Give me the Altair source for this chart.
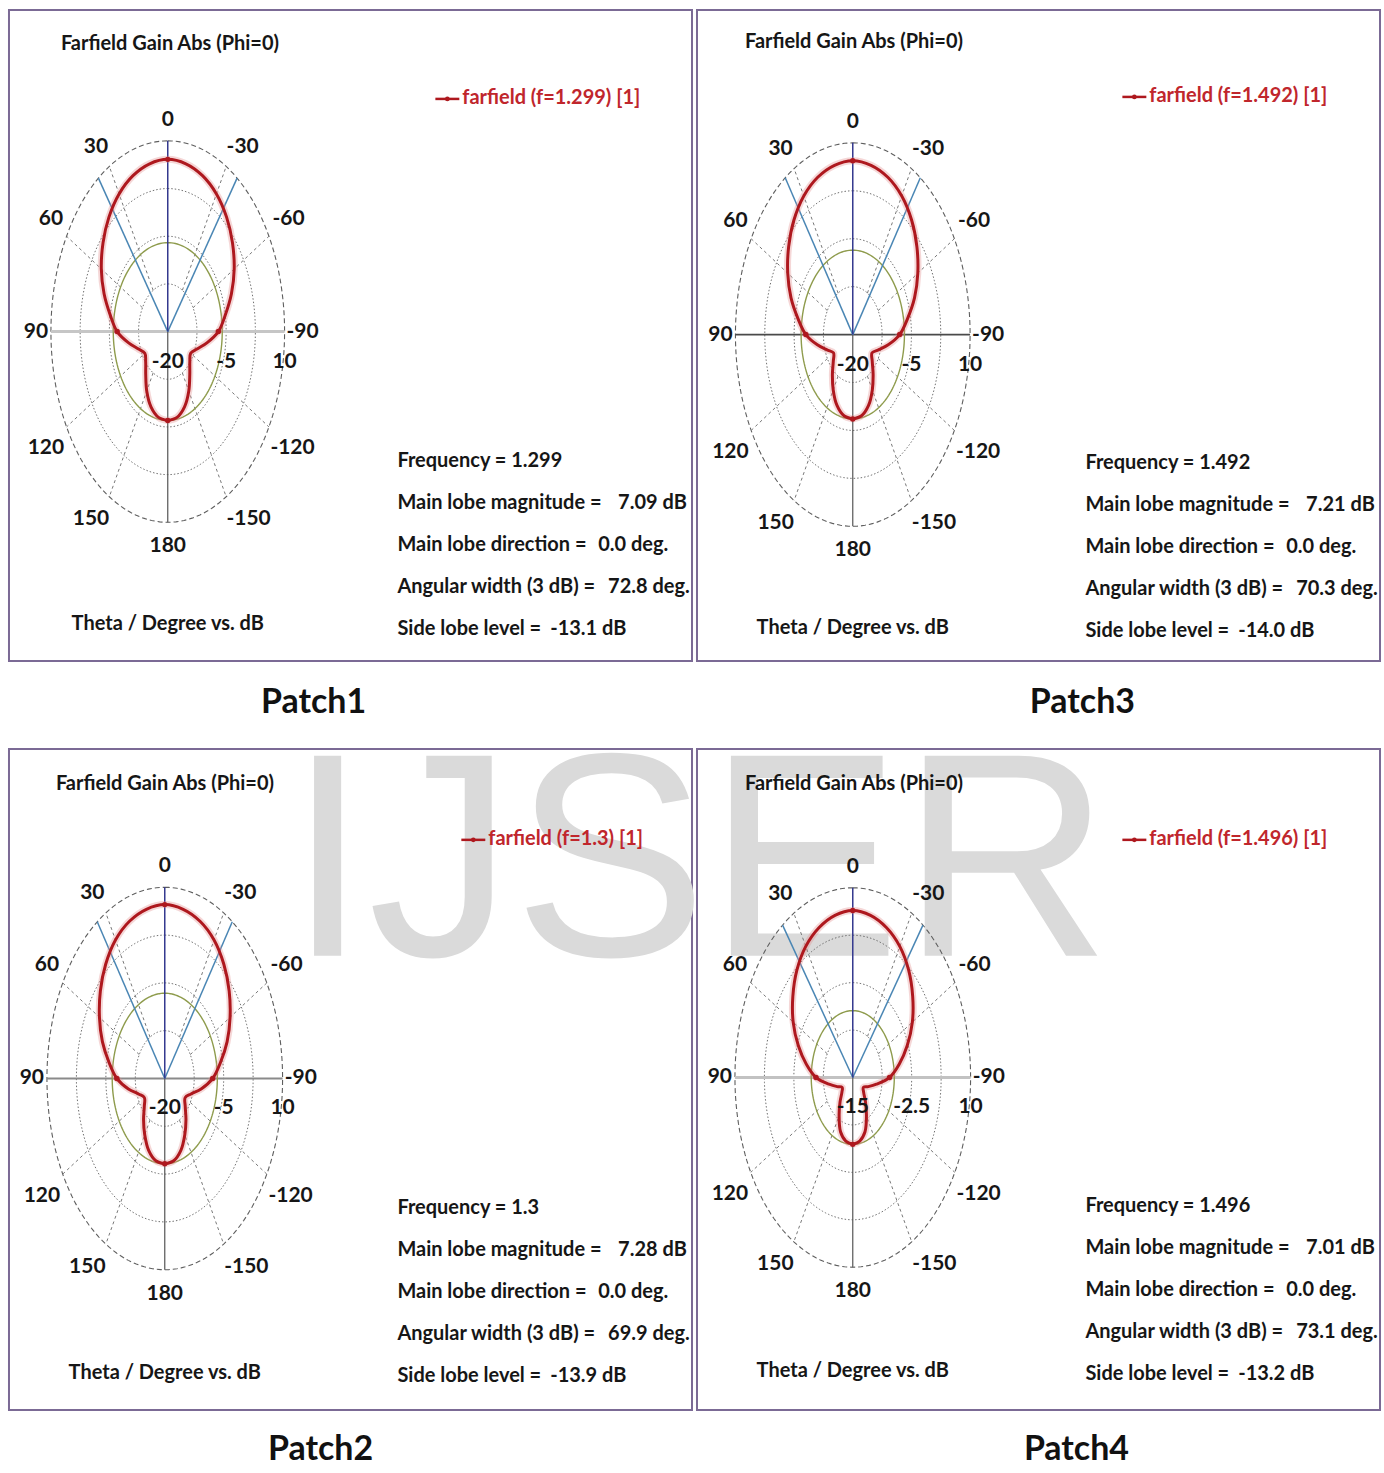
import numpy as np
import pandas as pd
import altair as alt

# ---------------- data ----------------
PATCH_NAMES = ["Patch1", "Patch3", "Patch2", "Patch4"]
FREQS = ["1.299", "1.492", "1.3", "1.496"]
MAIN_LOBE_DB = [7.09, 7.21, 7.28, 7.01]
MAIN_LOBE_DIR = [0.0, 0.0, 0.0, 0.0]
BEAMWIDTH_DEG = [72.8, 70.3, 69.9, 73.1]
SIDE_LOBE_DB = [-13.1, -14.0, -13.9, -13.2]
RADIAL_MIN = [-20, -20, -20, -15]
RADIAL_MAX = [10, 10, 10, 10]
RADIAL_LABELS = [[-20, -5, 10], [-20, -5, 10], [-20, -5, 10], [-15, -2.5, 10]]
ANGLE_TICKS = [0, 30, 60, 90, 120, 150, 180, -150, -120, -90, -60, -30]

THETA = [-180, -170, -160, -150, -140, -130, -120, -110, -100, -90, -80, -70, -60,
         -50, -40, -30, -20, -10, 0, 10, 20, 30, 40, 50, 60, 70, 80, 90, 100, 110,
         120, 130, 140, 150, 160, 170, 180]

GAIN_PATCH1 = [-6.01, -6.3, -7.4, -9.2, -11.2, -12.6, -13.2, -12.0, -9.8, -7.0, -5.0,
               -2.6, -0.3, 1.7, 3.5, 5.0, 6.1, 6.8, 7.09, 6.8, 6.1, 5.0, 3.5, 1.7, -0.3,
               -2.6, -5.0, -7.0, -9.8, -12.0, -13.2, -12.6, -11.2, -9.2, -7.4, -6.3, -6.01]
GAIN_PATCH3 = [-6.79, -7.1, -8.2, -10.0, -11.9, -13.5, -14.3, -13.0, -10.8, -8.0, -5.8,
               -3.2, -0.8, 1.4, 3.4, 5.05, 6.2, 6.9, 7.21, 6.9, 6.2, 5.05, 3.4, 1.4, -0.8,
               -3.2, -5.8, -8.0, -10.8, -13.0, -14.3, -13.5, -11.9, -10.0, -8.2, -7.1, -6.79]
GAIN_PATCH2 = [-6.62, -6.9, -8.0, -9.8, -11.6, -13.2, -14.0, -12.9, -10.6, -7.8, -5.6,
               -3.1, -0.8, 1.4, 3.4, 5.1, 6.25, 6.95, 7.28, 6.95, 6.25, 5.1, 3.4, 1.4, -0.8,
               -3.1, -5.6, -7.8, -10.6, -12.9, -14.0, -13.2, -11.6, -9.8, -8.0, -6.9, -6.62]
GAIN_PATCH4 = [-6.19, -6.5, -7.4, -9.2, -10.8, -12.0, -12.4, -11.5, -9.9, -7.2, -5.0,
               -2.7, -0.4, 1.6, 3.45, 4.95, 6.0, 6.7, 7.01, 6.7, 6.0, 4.95, 3.45, 1.6, -0.4,
               -2.7, -5.0, -7.2, -9.9, -11.5, -12.4, -12.0, -10.8, -9.2, -7.4, -6.5, -6.19]
GAINS = [GAIN_PATCH1, GAIN_PATCH3, GAIN_PATCH2, GAIN_PATCH4]

# ---------------- layout / style ----------------
FONT = "Lato, Liberation Sans, sans-serif"
INK = "#161616"
RED = "#ae181e"
W = 684
HEIGHTS = [652, 652, 662, 662]
CENTERS = [(159, 322), (156, 325), (156, 330), (156, 329)]
RADII = [(117, 191), (117.5, 192), (118, 191.5), (118, 190)]
HAXIS_COLOR = ["#c6c6c6", "#4a4a4a", "#8a8a8a", "#c2c2c2"]
HAXIS_WIDTH = [3, 1.6, 2, 3]
TITLE_POS = [(52, 34), (48, 32), (47, 35), (48, 35)]
LEGEND_POS = [(454, 88), (453, 86), (480, 90), (453, 90)]
INFO_TOP = [452, 454, 460, 458]
XLABEL_Y = [615, 619, 625, 623]
PATCH_POS = [(305, 694), (386, 694), (312, 702), (380, 702)]
# where each angle tick label sits, in units of the outer ring radius
ANGLE_LABEL_ANCHOR = {
    0: (0.0, 1.11), 30: (-0.615, 0.969), 60: (-1.0, 0.592), 90: (-1.128, 0.0),
    120: (-1.043, -0.613), 150: (-0.657, -0.984), 180: (0.0, -1.126),
    -150: (0.692, -0.984), -120: (1.068, -0.613), -90: (1.154, 0.0),
    -60: (1.034, 0.592), -30: (0.641, 0.969),
}


def text_at(txt, px, py, size=20, color=INK, align="left", weight="bold"):
    return alt.Chart(pd.DataFrame({"label": [txt]})).mark_text(
        align=align, baseline="middle", fontSize=size, fontWeight=weight,
        font=FONT, color=color
    ).encode(x=alt.value(px), y=alt.value(py), text="label:N")


def ring_frame(radii):
    ang = np.radians(np.arange(0, 361, 2))
    rows = []
    for r in radii:
        for j, a in enumerate(ang):
            rows.append({"ring": r, "seq": j, "x": r * np.sin(a), "y": r * np.cos(a)})
    return pd.DataFrame(rows)


def build_panel(k):
    H = HEIGHTS[k]
    cx, cy = CENTERS[k]
    rx, ry = RADII[k]
    xs = alt.Scale(domain=[-cx / rx, (W - cx) / rx], nice=False, zero=False)
    ys = alt.Scale(domain=[-(H - cy) / ry, cy / ry], nice=False, zero=False)
    X = alt.X("x:Q", scale=xs, axis=None)
    Y = alt.Y("y:Q", scale=ys, axis=None)
    lo, hi = RADIAL_MIN[k], RADIAL_MAX[k]

    def rnorm(v):
        return (np.asarray(v, dtype=float) - lo) / (hi - lo)

    layers = []

    if PATCH_NAMES[k] == "Patch2":
        layers.append(alt.Chart(pd.DataFrame({"label": ["IJSER"]})).mark_text(
            align="center", baseline="alphabetic", fontSize=291,
            font="Liberation Sans, Arial, sans-serif", color="#dadada"
        ).encode(x=alt.value(691), y=alt.value(207), text="label:N"))

    # grid rings
    inner = ring_frame([0.25, 0.5, 0.75])
    layers.append(alt.Chart(inner).mark_line(color="#6f6f6f", strokeWidth=1,
                                             strokeDash=[1.5, 2]).encode(
        x=X, y=Y, detail="ring:N", order="seq:Q"))
    outer = ring_frame([1.0])
    layers.append(alt.Chart(outer).mark_line(color="#5e5e5e", strokeWidth=1.1,
                                             strokeDash=[5, 3]).encode(
        x=X, y=Y, detail="ring:N", order="seq:Q"))

    # spokes
    sp = [a for a in ANGLE_TICKS if a % 90 != 0]
    spokes = pd.DataFrame({
        "x": [-0.25 * np.sin(np.radians(a)) for a in sp],
        "y": [0.25 * np.cos(np.radians(a)) for a in sp],
        "x2": [-np.sin(np.radians(a)) for a in sp],
        "y2": [np.cos(np.radians(a)) for a in sp],
    })
    layers.append(alt.Chart(spokes).mark_rule(color="#777777", strokeWidth=1,
                                              strokeDash=[3, 3]).encode(
        x=X, y=Y, x2="x2:Q", y2="y2:Q"))

    # axes through the centre
    hax = pd.DataFrame({"x": [-1.0], "y": [0.0], "x2": [1.0], "y2": [0.0]})
    layers.append(alt.Chart(hax).mark_rule(color=HAXIS_COLOR[k],
                                           strokeWidth=HAXIS_WIDTH[k]).encode(
        x=X, y=Y, x2="x2:Q", y2="y2:Q"))
    vlow = pd.DataFrame({"x": [0.0], "y": [0.0], "x2": [0.0], "y2": [-1.0]})
    layers.append(alt.Chart(vlow).mark_rule(color="#555555", strokeWidth=1.2).encode(
        x=X, y=Y, x2="x2:Q", y2="y2:Q"))

    # side lobe level ring
    sll = ring_frame([float(rnorm(MAIN_LOBE_DB[k] + SIDE_LOBE_DB[k]))])
    layers.append(alt.Chart(sll).mark_line(color="#8e9b4c", strokeWidth=1.4).encode(
        x=X, y=Y, detail="ring:N", order="seq:Q"))

    # 3 dB beamwidth lines and main lobe direction
    half = BEAMWIDTH_DEG[k] / 2.0
    d = MAIN_LOBE_DIR[k]
    bw = pd.DataFrame({
        "x": [0.0, 0.0], "y": [0.0, 0.0],
        "x2": [-np.sin(np.radians(d + half)), -np.sin(np.radians(d - half))],
        "y2": [np.cos(np.radians(d + half)), np.cos(np.radians(d - half))],
    })
    layers.append(alt.Chart(bw).mark_rule(color="#4a86b4", strokeWidth=1.5).encode(
        x=X, y=Y, x2="x2:Q", y2="y2:Q"))
    mdir = pd.DataFrame({"x": [0.0], "y": [0.0],
                         "x2": [-np.sin(np.radians(d))], "y2": [np.cos(np.radians(d))]})
    layers.append(alt.Chart(mdir).mark_rule(color="#33388e", strokeWidth=1.5).encode(
        x=X, y=Y, x2="x2:Q", y2="y2:Q"))

    # radiation pattern
    th = np.radians(np.asarray(THETA, dtype=float))
    r = rnorm(GAINS[k])
    curve = pd.DataFrame({"theta": THETA, "gain": GAINS[k], "seq": range(len(THETA)),
                          "x": -r * np.sin(th), "y": r * np.cos(th)})
    layers.append(alt.Chart(curve).mark_line(color="#e38b8b", strokeWidth=7, opacity=0.35,
                                             interpolate="catmull-rom").encode(
        x=X, y=Y, order="seq:Q"))
    layers.append(alt.Chart(curve).mark_line(color=RED, strokeWidth=3,
                                             interpolate="catmull-rom").encode(
        x=X, y=Y, order="seq:Q"))
    marks = curve[curve["theta"].isin([0, 90, -90, 180])]
    layers.append(alt.Chart(marks).mark_point(filled=True, color=RED, size=30,
                                              opacity=1).encode(x=X, y=Y))

    # angle labels
    ang = pd.DataFrame({
        "label": [str(a) for a in ANGLE_TICKS],
        "x": [ANGLE_LABEL_ANCHOR[a][0] for a in ANGLE_TICKS],
        "y": [ANGLE_LABEL_ANCHOR[a][1] for a in ANGLE_TICKS],
    })
    layers.append(alt.Chart(ang).mark_text(fontSize=21, fontWeight="bold", font=FONT,
                                           color=INK).encode(x=X, y=Y, text="label:N"))

    # radial labels along the -90 side
    rl = RADIAL_LABELS[k]
    rad = pd.DataFrame({"label": [f"{v:g}" for v in rl],
                        "x": list(rnorm(rl)), "y": [0.0] * len(rl)})
    layers.append(alt.Chart(rad).mark_text(fontSize=21, fontWeight="bold", font=FONT,
                                           color=INK, dy=30).encode(
        x=X, y=Y, text="label:N"))

    # panel texts
    tx, ty = TITLE_POS[k]
    layers.append(text_at("Farfield Gain Abs (Phi=0)", tx, ty))
    lx, lyy = LEGEND_POS[k]
    leg = pd.DataFrame({"a": [0]})
    layers.append(alt.Chart(leg).mark_rule(color=RED, strokeWidth=2.5).encode(
        x=alt.value(lx - 27), x2=alt.value(lx - 3), y=alt.value(lyy + 1)))
    layers.append(alt.Chart(leg).mark_point(filled=True, color=RED, size=22,
                                            opacity=1).encode(
        x=alt.value(lx - 15), y=alt.value(lyy + 1)))
    layers.append(text_at(f"farfield (f={FREQS[k]}) [1]", lx, lyy, color="#c0262c"))

    top = INFO_TOP[k]
    step = 42
    layers.append(text_at(f"Frequency = {FREQS[k]}", 389, top))
    layers.append(text_at("Main lobe magnitude =", 389, top + step))
    layers.append(text_at(f"{MAIN_LOBE_DB[k]:.2f} dB", 610, top + step))
    layers.append(text_at("Main lobe direction =", 389, top + 2 * step))
    layers.append(text_at(f"{MAIN_LOBE_DIR[k]:.1f} deg.", 590, top + 2 * step))
    layers.append(text_at("Angular width (3 dB) =", 389, top + 3 * step))
    layers.append(text_at(f"{BEAMWIDTH_DEG[k]:.1f} deg.", 600, top + 3 * step))
    layers.append(text_at("Side lobe level =", 389, top + 4 * step))
    layers.append(text_at(f"{SIDE_LOBE_DB[k]:.1f} dB", 542, top + 4 * step))

    layers.append(text_at("Theta / Degree vs. dB", cx, XLABEL_Y[k], align="center"))

    px, py = PATCH_POS[k]
    layers.append(text_at(PATCH_NAMES[k], px, py, size=34, align="center",
                          color="#111111"))

    return alt.layer(*layers).properties(width=W, height=HEIGHTS[k])


panels = [build_panel(k) for k in range(4)]
chart = alt.concat(*panels, columns=2, spacing={"row": 88, "column": 5},
                   bounds="flush").properties(
    padding={"left": 8, "top": 8, "right": 3, "bottom": 3},
    background="white",
).configure_view(stroke="#7b6a95", strokeWidth=2)

chart.save("out.html", embed_options={"renderer": "svg", "actions": False})
